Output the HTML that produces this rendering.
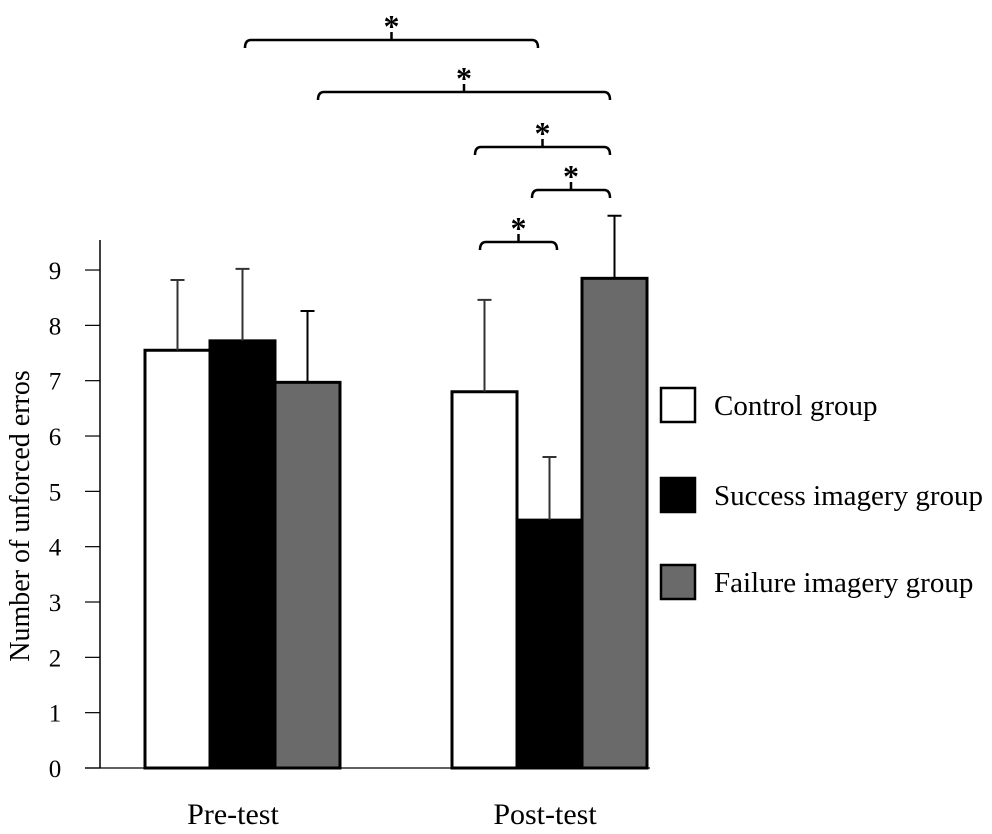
<!DOCTYPE html>
<html><head><meta charset="utf-8"><style>
body{margin:0;background:#fff}
svg text{font-family:"Liberation Serif",serif;fill:#000}
</style></head><body>
<svg id="c" width="992" height="829"></svg>
<script>
const groups=["Pre-test","Post-test"];
const series=["Control group","Success imagery group","Failure imagery group"];
const control=[7.55,6.8];
const success=[7.72,4.48];
const failure=[6.97,8.85];
const controlErr=[8.82,8.46];
const successErr=[9.02,5.62];
const failureErr=[8.26,9.98];
const yTicks=[0,1,2,3,4,5,6,7,8,9];
const colors=["#fff","#000","#6a6a6a"];
const svg=document.getElementById('c');
const NS="http://www.w3.org/2000/svg";
function el(t,a,p){const e=document.createElementNS(NS,t);for(const k in a)e.setAttribute(k,a[k]);(p||svg).appendChild(e);return e;}
const y=v=>768-v*55.33;
const groupX=[145,452], barW=65;
const x=(g,s)=>groupX[g]+s*barW;
let ax=el('line',{x1:100,y1:240,x2:100,y2:768,stroke:'#000','stroke-width':1.5});


let bl=el('line',{x1:85,y1:768,x2:650,y2:768,stroke:'#000','stroke-width':1.2});


yTicks.forEach(t=>{
 let l=el('line',{x1:85,y1:y(t),x2:100,y2:y(t),stroke:'#000','stroke-width':1.2});
 
 
 let tx=el('text',{x:55,y:y(t)+9,'font-size':25,'text-anchor':'middle'});tx.textContent=t;
 
 
});
let yt=el('text',{x:0,y:0,'font-size':28,'text-anchor':'middle',transform:'translate(29,516) rotate(-90)'});
yt.textContent='Number of unforced erros';


const vals=[control,success,failure], errs=[controlErr,successErr,failureErr];
const labelX=[233,545];
groups.forEach((g,gi)=>{
 series.forEach((s,si)=>{
  const v=vals[si][gi], e=errs[si][gi], bx=x(gi,si);
  let r=el('rect',{x:bx,y:y(v),width:barW,height:y(0)-y(v),fill:colors[si],stroke:'#000','stroke-width':3});
  
  
  const cx=bx+barW/2;
  let eb=el('path',{d:`M${cx} ${y(v)}V${y(e)}M${cx-7} ${y(e)}H${cx+7}`,stroke:si==2?'#000':'#333','stroke-width':2,fill:'none'});
  
  
 });
 let gl=el('text',{x:labelX[gi],y:824,'font-size':30,'text-anchor':'middle'});gl.textContent=g;
 
 
});
const brackets=[[245,538,40],[318,610,92],[475,610,147],[532,610,190],[480,557,242]];
brackets.forEach(b=>{
 const m=(b[0]+b[1])/2;
 let p=el('path',{d:`M${b[0]} ${b[2]+8}Q${b[0]} ${b[2]} ${b[0]+6} ${b[2]}H${b[1]-6}Q${b[1]} ${b[2]} ${b[1]} ${b[2]+8}M${m} ${b[2]}V${b[2]-8}`,stroke:'#000','stroke-width':2.5,fill:'none'});
 
 
 let s=el('text',{x:m,y:b[2]-3,'font-size':32,'text-anchor':'middle','font-weight':'bold'});s.textContent='*';
 
 
});
const legY=[388,478,565];
series.forEach((s,i)=>{
 let r=el('rect',{x:661,y:legY[i],width:34,height:34,fill:colors[i],stroke:'#000','stroke-width':2.5});
 
 
 let t=el('text',{x:714,y:legY[i]+27,'font-size':29});t.textContent=s;
 
 
});
</script>
</body></html>
